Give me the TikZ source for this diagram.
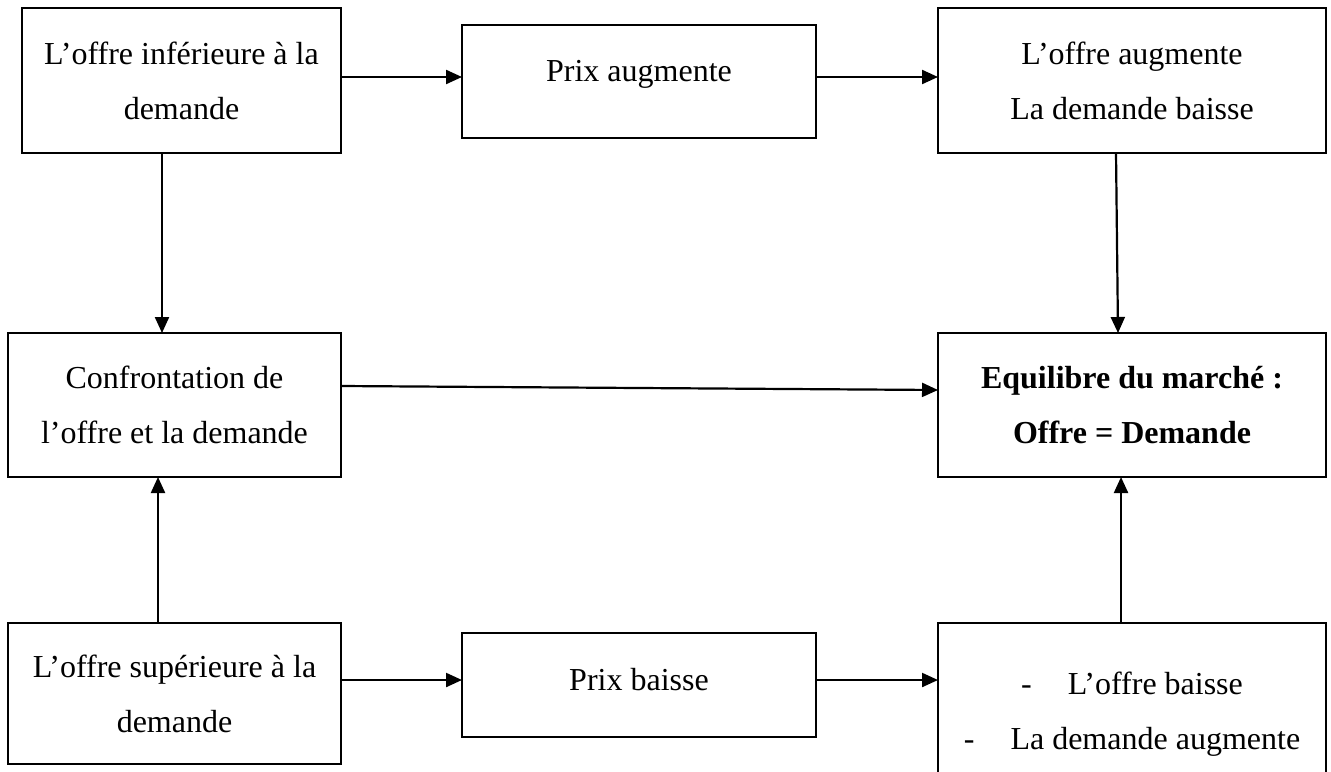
\documentclass[tikz,border=0pt]{standalone}
\usepackage{fontspec}
\setmainfont{Liberation Serif}
\usetikzlibrary{arrows.meta,calc}
\begin{document}
\begin{tikzpicture}[x=0.5pt,y=-0.5pt,
  box/.style={draw, line width=0.9pt, inner sep=0pt, outer sep=0pt,
              align=center, font=\fontsize{16}{27.5}\selectfont},
  txt/.style={align=center, inner sep=0pt, font=\fontsize{16}{27.5}\selectfont},
  arr/.style={line width=1.1pt, -{Triangle[length=8pt,width=7pt]}}]
\useasboundingbox[fill=white] (0,0) rectangle (1331,771);

% top row
\node[box, minimum width=159.5pt, minimum height=72.5pt] (A) at (181.5,80.5)
  {L’offre inférieure à la\\demande};
\node[box, minimum width=177pt, minimum height=56.5pt] (B) at (639,81.5) {};
\node[txt] (Bt) at (639,74) {Prix augmente};
\node[box, minimum width=194pt, minimum height=72.5pt] (C) at (1132,80.5)
  {L’offre augmente\\La demande baisse};

% middle row
\node[box, minimum width=166.5pt, minimum height=72pt] (D) at (174.5,405)
  {Confrontation de\\l’offre et la demande};
\node[box, minimum width=194pt, minimum height=72pt, font=\fontsize{16}{27.5}\selectfont\bfseries] (E) at (1132,405)
  {Equilibre du marché :\\Offre = Demande};

% bottom row
\node[box, minimum width=166.5pt, minimum height=70.5pt] (F) at (174.5,693.5)
  {L’offre supérieure à la\\demande};
\node[box, minimum width=177pt, minimum height=52pt] (G) at (639,685) {};
\node[txt] (Gt) at (639,680) {Prix baisse};
\node[box, minimum width=194pt, minimum height=103.5pt] (H) at (1132,726.5) {};
\node[txt] (Ht) at (1132,714)
  {-\hspace{18pt}L’offre baisse\\-\hspace{18pt}La demande augmente};

% guide coordinates for the connectors
\coordinate (rowtop) at (0,77);
\coordinate (rowbot) at (0,680);
\coordinate (colA) at (162,0);
\coordinate (colF) at (158,0);
\coordinate (colH) at (1121,0);

% connectors
\draw[arr] (A.east |- rowtop) -- (B.west |- rowtop);
\draw[arr] (B.east |- rowtop) -- (C.west |- rowtop);
\draw[arr] (A.south -| colA) -- (D.north -| colA);
\draw[arr] ([xshift=-8pt]C.south) -- ([xshift=-7pt]E.north);
\draw[arr] ([yshift=9.5pt]D.east) -- ([yshift=7.5pt]E.west);
\draw[arr] (F.north -| colF) -- (D.south -| colF);
\draw[arr] (H.north -| colH) -- (E.south -| colH);
\draw[arr] (F.east |- rowbot) -- (G.west |- rowbot);
\draw[arr] (G.east |- rowbot) -- (H.west |- rowbot);
\end{tikzpicture}
\end{document}
